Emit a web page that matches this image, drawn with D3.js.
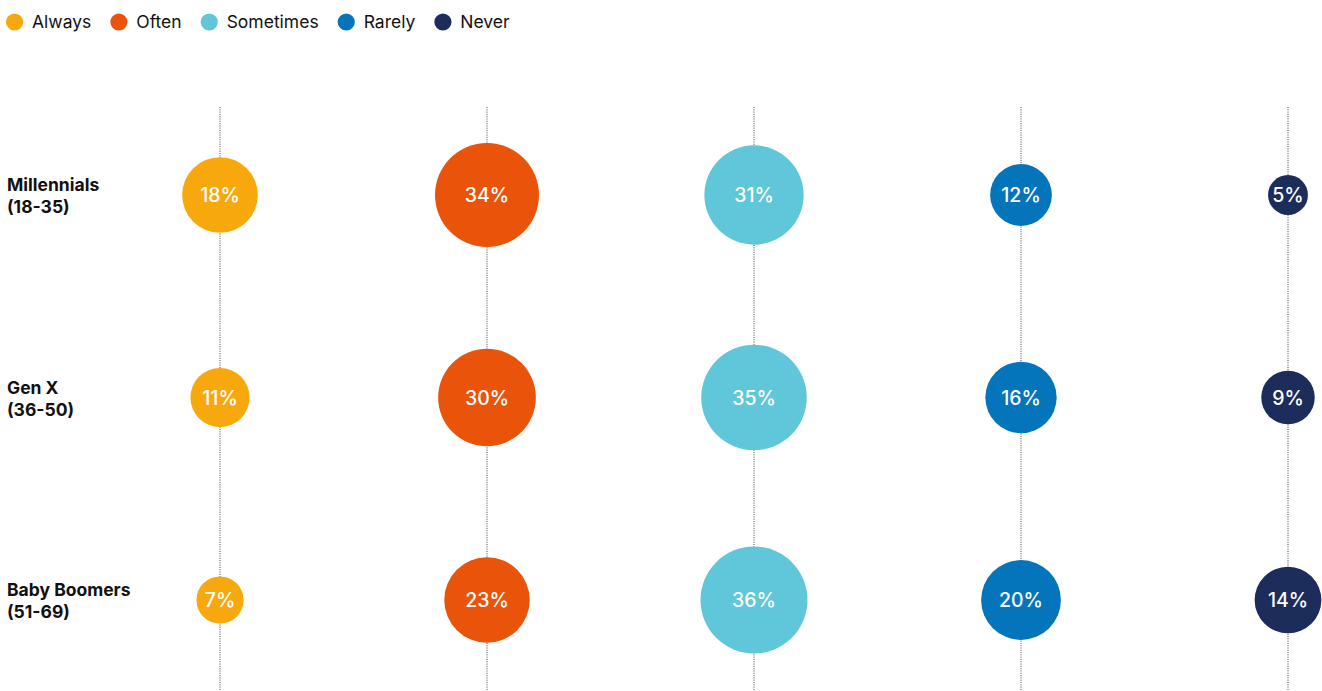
<!DOCTYPE html>
<html>
<head>
<meta charset="utf-8">
<script src="https://cdn.jsdelivr.net/npm/d3@7"></script>
<style>
  html, body { margin: 0; padding: 0; background: #fff; }
  svg { display: block; font-family: Inter, "Noto Sans", sans-serif; }
</style>
</head>
<body>
<svg id="chart" width="1322" height="691"></svg>
<script>
// ---- data ----
const categories = ["Always", "Often", "Sometimes", "Rarely", "Never"];
const groups = ["Millennials", "Gen X", "Baby Boomers"];
const groupRanges = ["(18-35)", "(36-50)", "(51-69)"];
const always    = [18, 11, 7];
const often     = [34, 30, 23];
const sometimes = [31, 35, 36];
const rarely    = [12, 16, 20];
const never     = [5, 9, 14];
const colors = ["#F7A80D", "#E9540A", "#5FC7D9", "#0475BA", "#1C2C5B"];

const seriesValues = [always, often, sometimes, rarely, never];

const svg = d3.select("#chart");
const W = 1322, H = 691;

const x = d3.scalePoint().domain(categories).range([220, 1288]);
const y = d3.scalePoint().domain(groups).range([195, 600]);
const r = d3.scaleSqrt().domain([0, 36]).range([0, 53.5]);
const color = d3.scaleOrdinal().domain(categories).range(colors);

// dotted guide lines
svg.append("g").selectAll("line").data(categories).join("line")
  .attr("x1", d => x(d)).attr("x2", d => x(d))
  .attr("y1", 107).attr("y2", H)
  .attr("stroke", "#444").attr("stroke-width", 1)
  .attr("stroke-dasharray", "1 1.3");

// cells
const cells = [];
groups.forEach((g, gi) => {
  categories.forEach((c, ci) => {
    cells.push({ group: g, cat: c, value: seriesValues[ci][gi] });
  });
});

const cg = svg.append("g").selectAll("g").data(cells).join("g")
  .attr("transform", d => `translate(${x(d.cat)},${y(d.group)})`);
cg.append("circle").attr("r", d => r(d.value)).attr("fill", d => color(d.cat));
cg.append("text")
  .attr("text-anchor", "middle").attr("dy", "0.36em")
  .attr("fill", "#fff").attr("font-size", 19.5).attr("font-weight", 500)
  .text(d => d.value + "%");

// row labels
const rl = svg.append("g").selectAll("text").data(groups).join("text")
  .attr("x", 7).attr("y", d => y(d))
  .attr("font-size", 17.5).attr("font-weight", 700).attr("fill", "#111");
rl.append("tspan").attr("x", 7).attr("dy", "-0.22em").text(d => d);
rl.append("tspan").attr("x", 7).attr("dy", "1.27em").text((d, i) => groupRanges[i]);

// legend
const lg = svg.append("g");
let lx = 6;
categories.forEach(c => {
  const item = lg.append("g").attr("transform", `translate(${lx},22)`);
  item.append("circle").attr("cx", 8.6).attr("r", 8.6).attr("fill", color(c));
  const t = item.append("text").attr("x", 26).attr("dy", "0.35em")
    .attr("font-size", 17.5).attr("fill", "#111").text(c);
  lx += 26 + t.node().getComputedTextLength() + 19;
});
</script>
</body>
</html>
